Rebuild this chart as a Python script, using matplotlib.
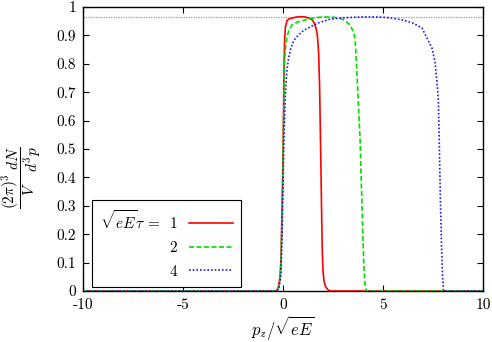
import matplotlib
matplotlib.use("Agg")
import matplotlib.pyplot as plt

plt.rcParams['mathtext.fontset'] = 'cm'
plt.rcParams['font.family'] = 'serif'
plt.rcParams['font.serif'] = ['cmr10']
plt.rcParams['axes.unicode_minus'] = False

# tau = 1
p_red = [-10, -0.35, -0.3, -0.25, -0.2, -0.15, -0.1, -0.05, -0.02, 0.0, 0.03, 0.05, 0.08,
         0.12, 0.2, 0.3, 0.5, 0.7, 0.9, 1.1, 1.3, 1.45, 1.55, 1.65, 1.72, 1.78, 1.83, 1.87,
         1.9, 1.93, 1.96, 2.0, 2.05, 2.13, 2.25, 2.4, 10]
y_red = [0, 0, 0.004, 0.01, 0.025, 0.05, 0.11, 0.28, 0.38, 0.48, 0.64, 0.78, 0.88,
         0.93, 0.952, 0.958, 0.962, 0.965, 0.966, 0.965, 0.961, 0.955, 0.945, 0.925,
         0.9, 0.84, 0.72, 0.55, 0.42, 0.28, 0.15, 0.07, 0.035, 0.015, 0.004, 0, 0]

# tau = 2
p_green = [-10, -0.35, -0.3, -0.25, -0.2, -0.15, -0.1, -0.05, 0.0, 0.04, 0.08, 0.13, 0.2,
           0.3, 0.45, 0.6, 0.78, 1.1, 1.35, 1.7, 2.1, 2.5, 2.85, 3.1, 3.35, 3.52, 3.6,
           3.65, 3.7, 3.77, 3.85, 3.9, 3.95, 4.0, 4.05, 4.1, 4.17, 10]
y_green = [0, 0, 0.003, 0.009, 0.022, 0.045, 0.1, 0.26, 0.45, 0.65, 0.81, 0.86, 0.895,
           0.918, 0.937, 0.943, 0.948, 0.954, 0.959, 0.963, 0.965, 0.964, 0.96, 0.952,
           0.937, 0.913, 0.89, 0.83, 0.76, 0.655, 0.54, 0.42, 0.3, 0.18, 0.08, 0.025, 0, 0]

# tau = 4
p_blue = [-10, -0.3, -0.2, -0.1, -0.05, 0.0, 0.05, 0.1, 0.15, 0.2, 0.28, 0.37, 0.5, 0.62,
          0.8, 0.95, 1.15, 1.37, 1.8, 2.35, 3.0, 4.0, 4.7, 5.35, 6.0, 6.5, 6.95, 7.2,
          7.45, 7.6, 7.7, 7.77, 7.82, 7.87, 7.93, 7.98, 8.03, 10]
y_blue = [0, 0, 0.008, 0.06, 0.18, 0.36, 0.54, 0.66, 0.73, 0.78, 0.82, 0.85, 0.875, 0.89,
          0.903, 0.913, 0.922, 0.93, 0.945, 0.957, 0.962, 0.965, 0.965, 0.962, 0.954,
          0.943, 0.926, 0.89, 0.855, 0.806, 0.735, 0.67, 0.5, 0.32, 0.15, 0.05, 0, 0]

ref_level = 0.965
legend_labels = [r"$\sqrt{eE}\tau\, =\;\; 1$", r"$2$", r"$4$"]
xtick_vals = [-10, -5, 0, 5, 10]
xtick_labels = ['-10', '-5', '0', '5', '10']
ytick_vals = [0, 0.1, 0.2, 0.3, 0.4, 0.5, 0.6, 0.7, 0.8, 0.9, 1]
ytick_labels = ['0', '0.1', '0.2', '0.3', '0.4', '0.5', '0.6', '0.7', '0.8', '0.9', '1']

fig = plt.figure(figsize=(4.92, 3.42), dpi=100)
ax = fig.add_axes([83/492, 51/342, 400/492, 284/342])

ax.axhline(ref_level, color='#9a9a9a', lw=0.9, ls=(0, (1, 1)), zorder=1)
l1, = ax.plot(p_red, y_red, color='#ff0000', lw=1.2, zorder=3)
l2, = ax.plot(p_green, y_green, color='#00dd00', lw=1.2, ls=(0, (3, 1.5)), zorder=3)
l3, = ax.plot(p_blue, y_blue, color='#1a1aff', lw=1.2, ls=(0, (1, 1.2)), zorder=3)

ax.set_xlim(-10, 10)
ax.set_ylim(0, 1)
ax.set_xticks(xtick_vals)
ax.set_xticklabels(xtick_labels)
ax.set_yticks(ytick_vals)
ax.set_yticklabels(ytick_labels)
ax.tick_params(direction='in', top=True, right=True, length=4, width=0.8,
               labelsize=11, pad=5)
for s in ax.spines.values():
    s.set_linewidth(1.0)

ax.set_xlabel(r"$p_z/\sqrt{eE}$", fontsize=12)
ax.xaxis.set_label_coords(0.5, -0.08)
ax.set_ylabel(r"$\dfrac{(2\pi)^3}{V}\dfrac{dN}{d^3p}$", fontsize=11)
ax.yaxis.set_label_coords(-0.10, 0.40)

leg = ax.legend([l1, l2, l3], legend_labels, loc='lower left',
                bbox_to_anchor=(9/400, 4/284), borderaxespad=0, markerfirst=False,
                fancybox=False, edgecolor='black', framealpha=1, fontsize=11,
                handlelength=2.9, handletextpad=0.7, labelspacing=0.55,
                borderpad=0.55)
leg.get_frame().set_linewidth(0.8)

fig.savefig("out.png", dpi=100)
